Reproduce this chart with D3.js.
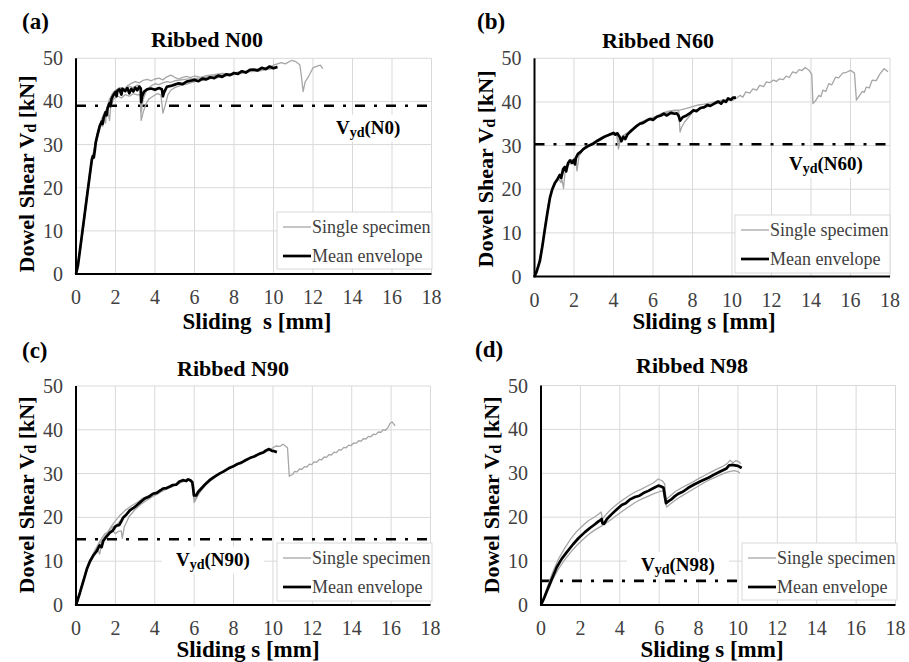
<!DOCTYPE html>
<html>
<head>
<meta charset="utf-8">
<script src="https://cdn.jsdelivr.net/npm/d3@7"></script>
<style>
  html, body { margin: 0; padding: 0; background: #fff; }
  svg { display: block; }
  svg text { font-family: "Liberation Serif", "DejaVu Serif", serif; }
</style>
</head>
<body>
<div id="chart"></div>
<script>
// ---- data ----
const xTicks = [0, 2, 4, 6, 8, 10, 12, 14, 16, 18];
const yTicks = [0, 10, 20, 30, 40, 50];
const panelLetters = ["(a)", "(b)", "(c)", "(d)"];
const panelTitles = ["Ribbed N00", "Ribbed N60", "Ribbed N90", "Ribbed N98"];
const yieldNames = ["N0", "N60", "N90", "N98"];
const yieldValues = [39, 30.3, 15, 5.5];     // V_yd [kN]
const yieldEnds = [18, 18, 18, 10.1];        // s where the dash-dot line stops
const legendLabels = ["Single specimen", "Mean envelope"];

// panel (a) Ribbed N00
const meanA = [[0,0],[0.1,2],[0.2,5.5],[0.3,9],[0.4,12.5],[0.5,16],[0.6,19.5],[0.7,23],[0.8,26.5],[0.85,27.3],[0.9,27],[0.95,28.5],[1.0,30.5],[1.1,32.5],[1.2,34.3],[1.3,35.3],[1.35,34.8],[1.4,36.2],[1.5,37.5],[1.55,36.8],[1.6,38.4],[1.7,39.6],[1.75,38.9],[1.8,40.6],[1.9,41.5],[2.0,42.2],[2.05,41.2],[2.1,42.5],[2.2,42.8],[2.3,41.6],[2.35,42.9],[2.5,42.4],[2.6,43.1],[2.7,41.9],[2.8,42.9],[2.9,42.3],[3.0,43.2],[3.1,42.6],[3.2,43.4],[3.28,43.0],[3.3,39.8],[3.35,41.2],[3.45,42.3],[3.6,42.8],[3.8,43.0],[4.0,42.7],[4.2,43.1],[4.35,42.8],[4.4,41.2],[4.45,42.0],[4.6,43.4],[4.8,43.6],[5.0,43.9],[5.2,44.2],[5.4,44.0],[5.6,44.6],[5.8,44.8],[6.0,45.0],[6.2,44.7],[6.4,45.3],[6.6,45.1],[6.8,45.6],[7.0,45.4],[7.2,46.0],[7.4,45.7],[7.6,46.3],[7.8,46.1],[8.0,46.6],[8.2,46.4],[8.4,47.0],[8.6,46.7],[8.8,47.3],[9.0,47.4],[9.2,47.2],[9.4,47.8],[9.6,47.5],[9.8,48.1],[10.0,47.7],[10.2,48.0]];
const specA1 = [[0,0],[0.15,4],[0.3,9.5],[0.5,16.5],[0.7,23.5],[0.9,28.5],[1.1,33],[1.3,36],[1.45,37.5],[1.5,35],[1.55,38],[1.7,40.5],[1.85,41.8],[2.0,42.5],[2.2,43.2],[2.4,42.6],[2.6,43.6],[2.8,44.2],[3.0,44.6],[3.2,44.3],[3.4,44.9],[3.6,45.1],[3.8,44.8],[4.0,45.2],[4.2,45.4],[4.4,45.0],[4.6,45.7],[4.8,46.1],[5.0,45.6],[5.2,45.2],[5.4,45.6],[5.6,45.8],[5.8,45.5],[6.0,45.9],[6.3,45.6],[6.6,46.0],[7.0,46.2],[7.4,46.5],[7.8,46.4],[8.2,46.8],[8.6,47.0],[9.0,47.3],[9.4,47.6],[9.8,47.9],[10.0,48.4],[10.4,49.0],[10.6,48.7],[10.9,49.5],[11.1,49.3],[11.33,48.5],[11.4,46.3],[11.5,42.3],[11.6,44.5],[11.8,46],[12.0,47.8],[12.2,48.2],[12.37,48.4],[12.5,47.6]];
const specA2 = [[0,0],[0.2,5],[0.4,11.5],[0.6,19],[0.8,25.5],[1.0,30],[1.2,33.5],[1.3,35],[1.35,34.2],[1.5,36.8],[1.6,38],[1.7,35.6],[1.75,38.5],[1.9,40.5],[2.1,41.3],[2.3,40.8],[2.5,41.6],[2.7,41.2],[2.9,41.8],[3.1,41.5],[3.25,41.6],[3.3,35.6],[3.4,37.5],[3.55,39.5],[3.7,40.6],[3.9,41.2],[4.1,41.8],[4.3,41.5],[4.4,37.3],[4.5,38.8],[4.65,41.5],[4.8,42.6],[5.0,43.2],[5.3,43.7],[5.6,44.0],[6.0,44.6],[6.4,44.9],[6.8,45.3],[7.2,45.5],[7.6,45.9],[8.0,46.2],[8.4,46.5],[8.8,46.9],[9.2,47.0],[9.6,47.4],[10.0,47.6]];
const specA3 = [[0,0],[0.25,7],[0.5,17],[0.75,25],[1.0,31],[1.2,34.5],[1.4,37],[1.55,38.3],[1.7,40.5],[1.9,42.2],[2.1,42.8],[2.3,43.2],[2.5,42.9],[2.7,43.5],[2.9,43.2],[3.1,43.8],[3.25,43.6],[3.3,37.5],[3.4,40.5],[3.6,42.8],[3.8,43.6],[4.0,44.1],[4.2,43.9],[4.4,44.3],[4.6,44.6],[4.8,44.4],[5.0,44.8],[5.5,45.1],[6.0,45.3],[6.5,45.6],[7.0,46.0],[7.5,46.2],[8.0,46.5],[8.5,46.9],[9.0,47.2],[9.5,47.5],[10.0,47.9],[10.2,48.2]];

// panel (b) Ribbed N60
const meanB = [[0,0],[0.1,1],[0.27,3.5],[0.4,7],[0.52,10.7],[0.65,14.5],[0.78,18],[0.9,20],[1.03,21.4],[1.15,22.2],[1.28,23.3],[1.35,22.6],[1.45,24.6],[1.54,25.1],[1.6,24.1],[1.7,26],[1.8,26.6],[1.9,26.0],[2.0,26.7],[2.05,25.7],[2.1,27.2],[2.2,28.1],[2.35,28.6],[2.47,29.2],[2.6,29.6],[2.8,30.1],[3.0,30.5],[3.14,31.0],[3.3,31.4],[3.45,31.8],[3.57,32.1],[3.75,32.4],[3.9,32.7],[4.0,32.9],[4.1,32.5],[4.2,32.8],[4.3,32.1],[4.4,31.0],[4.5,32.0],[4.6,31.5],[4.7,32.5],[4.85,33.2],[5.0,33.8],[5.15,34.4],[5.34,35.0],[5.5,35.2],[5.7,35.8],[5.85,36.1],[6.0,35.9],[6.2,36.6],[6.4,36.9],[6.55,37.3],[6.7,36.9],[6.9,37.5],[7.1,37.3],[7.2,37.4],[7.3,36.8],[7.37,35.7],[7.5,36.5],[7.7,36.9],[7.9,37.5],[8.05,38.1],[8.2,37.9],[8.4,38.6],[8.6,38.8],[8.75,39.3],[8.9,39.1],[9.1,39.6],[9.3,40.1],[9.45,39.6],[9.57,40.3],[9.7,40.0],[9.8,40.8],[9.95,40.5],[10.05,41.0],[10.2,41.0]];
const specB1 = [[0,0],[0.15,2],[0.3,4.5],[0.5,10],[0.7,16.5],[0.9,20.2],[1.1,21.8],[1.25,23],[1.4,22],[1.47,20.2],[1.55,24],[1.7,25.8],[1.9,26.8],[2.1,26.2],[2.15,24.2],[2.25,27.5],[2.45,29],[2.7,30],[3.0,30.8],[3.3,31.6],[3.6,32.2],[3.9,32.8],[4.15,33.0],[4.25,29.2],[4.35,31.5],[4.5,32.3],[4.7,32.8],[5.0,33.9],[5.3,35.0],[5.6,35.6],[5.9,36.2],[6.2,36.5],[6.5,37.3],[6.8,37.7],[7.1,38.0],[7.4,38.2],[7.7,38.5],[8.0,38.9],[8.3,39.3],[8.6,39.5],[8.9,39.8],[9.2,40.1],[9.5,40.4],[9.8,40.6],[10.05,40.4],[10.2,40.8],[10.4,41.5],[10.55,41.1],[10.7,42.3],[10.9,42.0],[11.06,43.0],[11.25,42.7],[11.4,43.8],[11.6,43.5],[11.74,44.6],[11.9,44.4],[12.1,45.0],[12.25,44.7],[12.4,45.3],[12.6,45.1],[12.74,45.9],[12.9,45.6],[13.07,46.9],[13.25,46.6],[13.4,47.4],[13.55,47.2],[13.7,47.9],[13.9,47.25],[14.04,46.3],[14.1,39.6],[14.25,40.4],[14.4,41.5],[14.5,41.2],[14.6,42.7],[14.75,42.4],[14.9,44.2],[15.05,43.9],[15.25,45.7],[15.4,45.5],[15.6,46.6],[15.8,46.8],[16.0,47.25],[16.2,46.6],[16.3,40.4],[16.4,41.1],[16.6,42.4],[16.7,42.2],[16.8,43.4],[16.95,43.2],[17.1,45],[17.3,44.9],[17.5,46.5],[17.7,47.6],[17.9,46.9]];
const specB2 = [[0,0],[0.2,2.8],[0.4,7.5],[0.6,13.5],[0.8,18.5],[1.0,21],[1.2,22.5],[1.35,21.5],[1.45,24],[1.65,25.5],[1.85,25.9],[2.0,27],[2.2,27.8],[2.4,28.8],[2.7,29.7],[3.0,30.5],[3.3,31.2],[3.6,32],[3.9,32.5],[4.15,32.4],[4.3,30.5],[4.45,32.2],[4.7,32.9],[5.0,34],[5.3,35.2],[5.6,35.8],[5.9,36.3],[6.2,36.8],[6.5,37.5],[6.8,37.9],[7.1,38.1],[7.3,38.0],[7.37,33.1],[7.45,34.2],[7.6,35.4],[7.8,36.5],[8.0,37.6],[8.3,38.3],[8.6,38.7],[8.9,39.1],[9.2,39.6],[9.5,40.0],[9.8,40.4],[10.1,40.9]];

// panel (c) Ribbed N90
const meanC = [[0,0],[0.2,2.8],[0.37,5.4],[0.55,8.2],[0.71,10],[0.88,11.3],[1.05,12.3],[1.2,13.6],[1.3,13.2],[1.38,14.6],[1.55,15.6],[1.72,16.5],[1.85,16.9],[2.0,17.9],[2.06,18.1],[2.2,18.3],[2.3,19.1],[2.4,20],[2.55,20.6],[2.73,21.6],[2.9,22.1],[3.07,22.7],[3.3,23.6],[3.49,24.3],[3.7,24.7],[3.9,25.4],[4.1,25.6],[4.3,26.2],[4.42,26.6],[4.6,26.7],[4.8,27.1],[4.92,27.4],[5.1,27.5],[5.25,28.2],[5.43,28.5],[5.6,28.3],[5.68,28.7],[5.8,28.5],[5.9,28.1],[5.95,26.5],[5.99,25.0],[6.1,25.0],[6.2,25.8],[6.36,26.6],[6.55,27.5],[6.78,28.5],[7.0,29.2],[7.28,30],[7.5,30.5],[7.75,31.2],[7.96,31.6],[8.2,32.2],[8.4,32.5],[8.63,33.1],[8.85,33.6],[9.05,33.9],[9.3,34.5],[9.5,34.8],[9.65,35.3],[9.8,35.6],[9.95,35.2],[10.07,35.1],[10.2,34.9]];
const specC1 = [[0,0],[0.3,4.5],[0.6,8.6],[0.9,11.8],[1.2,14.0],[1.5,15.9],[1.8,17.6],[2.1,18.5],[2.4,20.0],[2.7,21.2],[3.0,22.5],[3.3,23.5],[3.6,24.4],[3.9,25.1],[4.2,25.8],[4.5,26.4],[4.8,27.0],[5.1,27.6],[5.4,28.2],[5.7,28.5],[5.9,28.0],[6.0,23.4],[6.1,24.2],[6.3,25.8],[6.6,27.5],[6.9,28.6],[7.2,29.6],[7.5,30.4],[7.8,31.2],[8.1,31.9],[8.4,32.6],[8.7,33.3],[9.0,33.9],[9.3,34.5],[9.6,35.1],[9.9,35.6],[10.15,36.3],[10.35,36.2],[10.5,36.7],[10.6,36.4],[10.74,35.9],[10.83,29.4],[11.0,29.8],[11.1,30.5],[11.22,30.4],[11.35,31.05],[11.47,30.95],[11.6,31.6],[11.72,31.5],[11.85,32.15],[11.97,32.05],[12.1,32.7],[12.22,32.6],[12.35,33.25],[12.47,33.15],[12.6,33.8],[12.72,33.7],[12.85,34.35],[12.97,34.25],[13.1,34.9],[13.22,34.8],[13.35,35.45],[13.47,35.35],[13.6,36.0],[13.72,35.9],[13.85,36.5],[13.97,36.4],[14.1,37.0],[14.22,36.9],[14.35,37.5],[14.47,37.4],[14.6,38.0],[14.72,37.9],[14.85,38.5],[14.97,38.4],[15.1,39.0],[15.22,38.9],[15.35,39.5],[15.47,39.4],[15.6,40.0],[15.72,39.9],[15.85,40.6],[15.95,41.5],[16.05,41.8],[16.2,40.9]];
const specC2 = [[0,0],[0.3,4.3],[0.6,8.5],[0.9,11.5],[1.1,12.8],[1.2,11.6],[1.3,13.9],[1.5,15.8],[1.7,16.6],[1.85,17.0],[2.0,16.3],[2.15,16.8],[2.3,16.9],[2.35,15.2],[2.45,17.8],[2.7,20.2],[3.0,21.8],[3.3,23.0],[3.6,23.9],[3.9,24.8],[4.2,25.5],[4.5,26.3],[4.8,26.9],[5.1,27.5],[5.4,28.1],[5.7,28.6],[5.95,28.0],[6.02,23.6],[6.1,24.5],[6.4,26.6],[6.7,28.2],[7.0,29.2],[7.3,30.0],[7.6,30.8],[7.9,31.5],[8.2,32.2],[8.5,32.8],[8.8,33.5],[9.1,34.1],[9.4,34.7],[9.7,35.2],[10.0,35.4],[10.1,35.1]];
const specC3 = [[0,0],[0.3,4.8],[0.6,9.0],[0.9,12.0],[1.2,14.5],[1.45,16.2],[1.6,16.6],[1.8,18.0],[2.0,19.2],[2.2,20.3],[2.5,21.6],[2.8,22.6],[3.1,23.4],[3.4,24.4],[3.7,25.0],[4.0,25.3],[4.3,25.9],[4.6,26.5],[4.9,27.1],[5.2,27.8],[5.5,28.3],[5.85,28.6],[5.97,27.5],[6.03,24.5],[6.3,26.2],[6.6,27.8],[6.9,28.8],[7.2,29.8],[7.5,30.6],[7.8,31.3],[8.1,32.0],[8.4,32.6],[8.7,33.2],[9.0,33.8],[9.3,34.4],[9.6,34.9],[9.9,35.5],[10.1,35.3]];

// panel (d) Ribbed N98
const meanD = [[0,0],[0.15,1.5],[0.3,3.2],[0.54,5.8],[0.8,8.6],[1.05,10.5],[1.3,12.0],[1.64,13.9],[1.9,15.2],[2.23,16.6],[2.5,17.6],[2.74,18.4],[2.9,19.0],[3.0,19.3],[3.08,19.6],[3.12,18.6],[3.2,18.5],[3.35,19.6],[3.59,20.7],[3.8,21.6],[4.1,22.8],[4.3,23.2],[4.5,24.0],[4.77,24.6],[5.0,24.9],[5.2,25.5],[5.45,26.0],[5.7,26.6],[5.96,27.2],[6.1,27.0],[6.22,26.7],[6.3,24.5],[6.35,23.2],[6.46,23.6],[6.6,24.0],[6.8,24.8],[7.0,25.4],[7.2,25.8],[7.48,26.7],[7.8,27.5],[8.16,28.3],[8.5,29.0],[8.83,29.8],[9.1,30.4],[9.42,31.1],[9.55,31.8],[9.68,31.9],[9.85,31.8],[10.0,31.7],[10.19,31.2]];
const specD1 = [[0,0],[0.3,3.8],[0.6,7.5],[0.9,10.6],[1.2,12.9],[1.5,15.0],[1.8,16.7],[2.1,18.0],[2.4,19.2],[2.7,20.0],[2.95,20.8],[3.05,21.2],[3.12,19.6],[3.3,20.6],[3.6,22.0],[3.9,23.1],[4.2,24.1],[4.5,25.0],[4.8,25.8],[5.1,26.4],[5.4,27.1],[5.7,27.8],[5.95,28.7],[6.15,28.3],[6.28,27.6],[6.35,24.0],[6.5,24.6],[6.8,25.8],[7.1,26.6],[7.4,27.3],[7.7,28.0],[8.0,28.8],[8.3,29.5],[8.6,30.2],[8.9,30.9],[9.2,31.5],[9.45,32.2],[9.6,33.0],[9.75,32.4],[9.9,32.9],[10.05,32.6],[10.15,32.2]];
const specD2 = [[0,0],[0.3,2.8],[0.6,5.8],[0.9,8.3],[1.2,10.3],[1.5,12.0],[1.8,13.5],[2.1,14.8],[2.4,16.0],[2.7,17.0],[3.0,17.8],[3.3,18.6],[3.6,19.6],[3.9,20.6],[4.2,21.6],[4.5,22.5],[4.8,23.4],[5.1,24.1],[5.4,24.7],[5.7,25.3],[6.0,25.8],[6.2,26.0],[6.3,23.5],[6.38,22.3],[6.5,22.8],[6.8,23.8],[7.1,24.7],[7.4,25.5],[7.7,26.3],[8.0,27.1],[8.3,27.9],[8.6,28.6],[8.9,29.2],[9.2,29.8],[9.5,30.3],[9.8,30.6],[10.0,30.4],[10.1,30.0]];

const meanSeries = [meanA, meanB, meanC, meanD];
const specimenSeries = [[specA1, specA2, specA3], [specB1, specB2], [specC1, specC2, specC3], [specD1, specD2]];

// ---- layout (pixels) ----
const W = 909, H = 662;
const layout = [
  { plot: [76, 431.5, 58.3, 274], letter: [22, 29], title: [207, 47], yTitle: [26, 174], xTitle: [257, 329], legend: [277, 212, 155, 57], vyd: [336, 127] },
  { plot: [534.5, 890, 58.3, 276.5], letter: [477, 29], title: [658, 48], yTitle: [485, 169], xTitle: [704, 329], legend: [735, 215, 155, 58], vyd: [789, 163] },
  { plot: [76, 430.5, 386, 605], letter: [22, 358], title: [233, 376], yTitle: [26, 495], xTitle: [248, 657], legend: [277, 543, 155, 58], vyd: [176, 559] },
  { plot: [541, 895.5, 385.5, 605], letter: [475, 357], title: [692, 373], yTitle: [491, 495], xTitle: [712, 657], legend: [742, 543, 155, 57], vyd: [641, 564] }
];

const gridColor = "#d9d9d9";
const specColor = "#a6a6a6";
const tickColor = "#404040";
const serif = "'Liberation Serif', 'DejaVu Serif', serif";

const svg = d3.select("#chart").append("svg")
  .attr("width", W).attr("height", H)
  .attr("viewBox", [0, 0, W, H])
  .attr("font-family", serif);

layout.forEach((L, i) => {
  const [px0, px1, py0, py1] = L.plot;
  const x = d3.scaleLinear().domain([0, 18]).range([px0, px1]);
  const y = d3.scaleLinear().domain([0, 50]).range([py1, py0]);
  const g = svg.append("g");

  // gridlines
  g.append("g").selectAll("line").data(xTicks.slice(1)).join("line")
    .attr("x1", d => x(d)).attr("x2", d => x(d))
    .attr("y1", py0).attr("y2", py1)
    .attr("stroke", gridColor).attr("stroke-width", 1);
  g.append("g").selectAll("line").data(yTicks.slice(1)).join("line")
    .attr("x1", px0).attr("x2", px1)
    .attr("y1", d => y(d)).attr("y2", d => y(d))
    .attr("stroke", gridColor).attr("stroke-width", 1);

  // tick labels
  g.append("g").selectAll("text").data(xTicks).join("text")
    .attr("x", d => x(d)).attr("y", py1 + 30)
    .attr("text-anchor", "middle")
    .attr("font-size", 20).attr("fill", tickColor)
    .text(d => d);
  g.append("g").selectAll("text").data(yTicks).join("text")
    .attr("x", px0 - 13).attr("y", d => y(d)).attr("dy", "0.35em")
    .attr("text-anchor", "end")
    .attr("font-size", 20).attr("fill", tickColor)
    .text(d => d);

  const line = d3.line().x(d => x(d[0])).y(d => y(d[1]));

  // yield level, dash-dot
  g.append("line")
    .attr("x1", x(0)).attr("x2", x(yieldEnds[i]))
    .attr("y1", y(yieldValues[i])).attr("y2", y(yieldValues[i]))
    .attr("stroke", "#000").attr("stroke-width", 2.6)
    .attr("stroke-dasharray", "10,9,3,9");

  // single specimens
  g.append("g").selectAll("path").data(specimenSeries[i]).join("path")
    .attr("d", line)
    .attr("fill", "none").attr("stroke", specColor)
    .attr("stroke-width", 1.3).attr("stroke-linejoin", "round");

  // mean envelope
  g.append("path").datum(meanSeries[i])
    .attr("d", line)
    .attr("fill", "none").attr("stroke", "#000")
    .attr("stroke-width", 2.7).attr("stroke-linejoin", "round");

  // axis lines
  g.append("line").attr("x1", px0).attr("x2", px0).attr("y1", py0).attr("y2", py1 + 1)
    .attr("stroke", "#000").attr("stroke-width", 2);
  g.append("line").attr("x1", px0 - 1).attr("x2", px1).attr("y1", py1).attr("y2", py1)
    .attr("stroke", "#000").attr("stroke-width", 2);

  // V_yd label with white box
  const vg = g.append("g").attr("transform", `translate(${L.vyd[0]},${L.vyd[1]})`);
  const vt = vg.append("text").attr("dy", "0.35em")
    .attr("font-size", 19).attr("font-weight", "bold").attr("fill", "#000");
  vt.append("tspan").text("V");
  vt.append("tspan").attr("font-size", 14).attr("dy", 3).text("yd");
  vt.append("tspan").attr("dy", -3).text(`(${yieldNames[i]})`);
  const bb = vt.node().getBBox();
  vg.insert("rect", "text")
    .attr("x", bb.x - 14).attr("y", bb.y - 2)
    .attr("width", bb.width + 28).attr("height", bb.height + 4)
    .attr("fill", "#fff");

  // legend
  const [lx, ly, lw, lh] = L.legend;
  const lg = g.append("g").attr("transform", `translate(${lx},${ly})`);
  lg.append("rect").attr("width", lw).attr("height", lh)
    .attr("fill", "#fff").attr("stroke", gridColor).attr("stroke-width", 1);
  const rows = lg.selectAll("g").data(legendLabels).join("g")
    .attr("transform", (d, j) => `translate(0,${j === 0 ? 15 : 44})`);
  rows.append("line").attr("x1", 6).attr("x2", 34)
    .attr("stroke", (d, j) => j === 0 ? specColor : "#000")
    .attr("stroke-width", (d, j) => j === 0 ? 1.3 : 2.7);
  rows.append("text").attr("x", 35).attr("dy", "0.35em")
    .attr("font-size", 18).attr("fill", tickColor)
    .text(d => d);

  // titles
  g.append("text").attr("x", L.letter[0]).attr("y", L.letter[1])
    .attr("font-size", 23).attr("font-weight", "bold").text(panelLetters[i]);
  g.append("text").attr("x", L.title[0]).attr("y", L.title[1])
    .attr("text-anchor", "middle")
    .attr("font-size", 22).attr("font-weight", "bold").text(panelTitles[i]);

  const yt = g.append("text")
    .attr("transform", `translate(${L.yTitle[0]},${L.yTitle[1]}) rotate(-90)`)
    .attr("text-anchor", "middle").attr("dy", "0.35em")
    .attr("font-size", 22).attr("font-weight", "bold");
  yt.append("tspan").text("Dowel Shear V");
  yt.append("tspan").attr("font-size", 16).attr("dy", 2).text("d");
  yt.append("tspan").attr("dy", -2).text(" [kN]");

  g.append("text").attr("x", L.xTitle[0]).attr("y", L.xTitle[1])
    .attr("text-anchor", "middle")
    .attr("font-size", 23).attr("font-weight", "bold")
    .style("white-space", "pre")
    .text(i === 0 ? "Sliding  s [mm]" : "Sliding s [mm]");
});
</script>
</body>
</html>
